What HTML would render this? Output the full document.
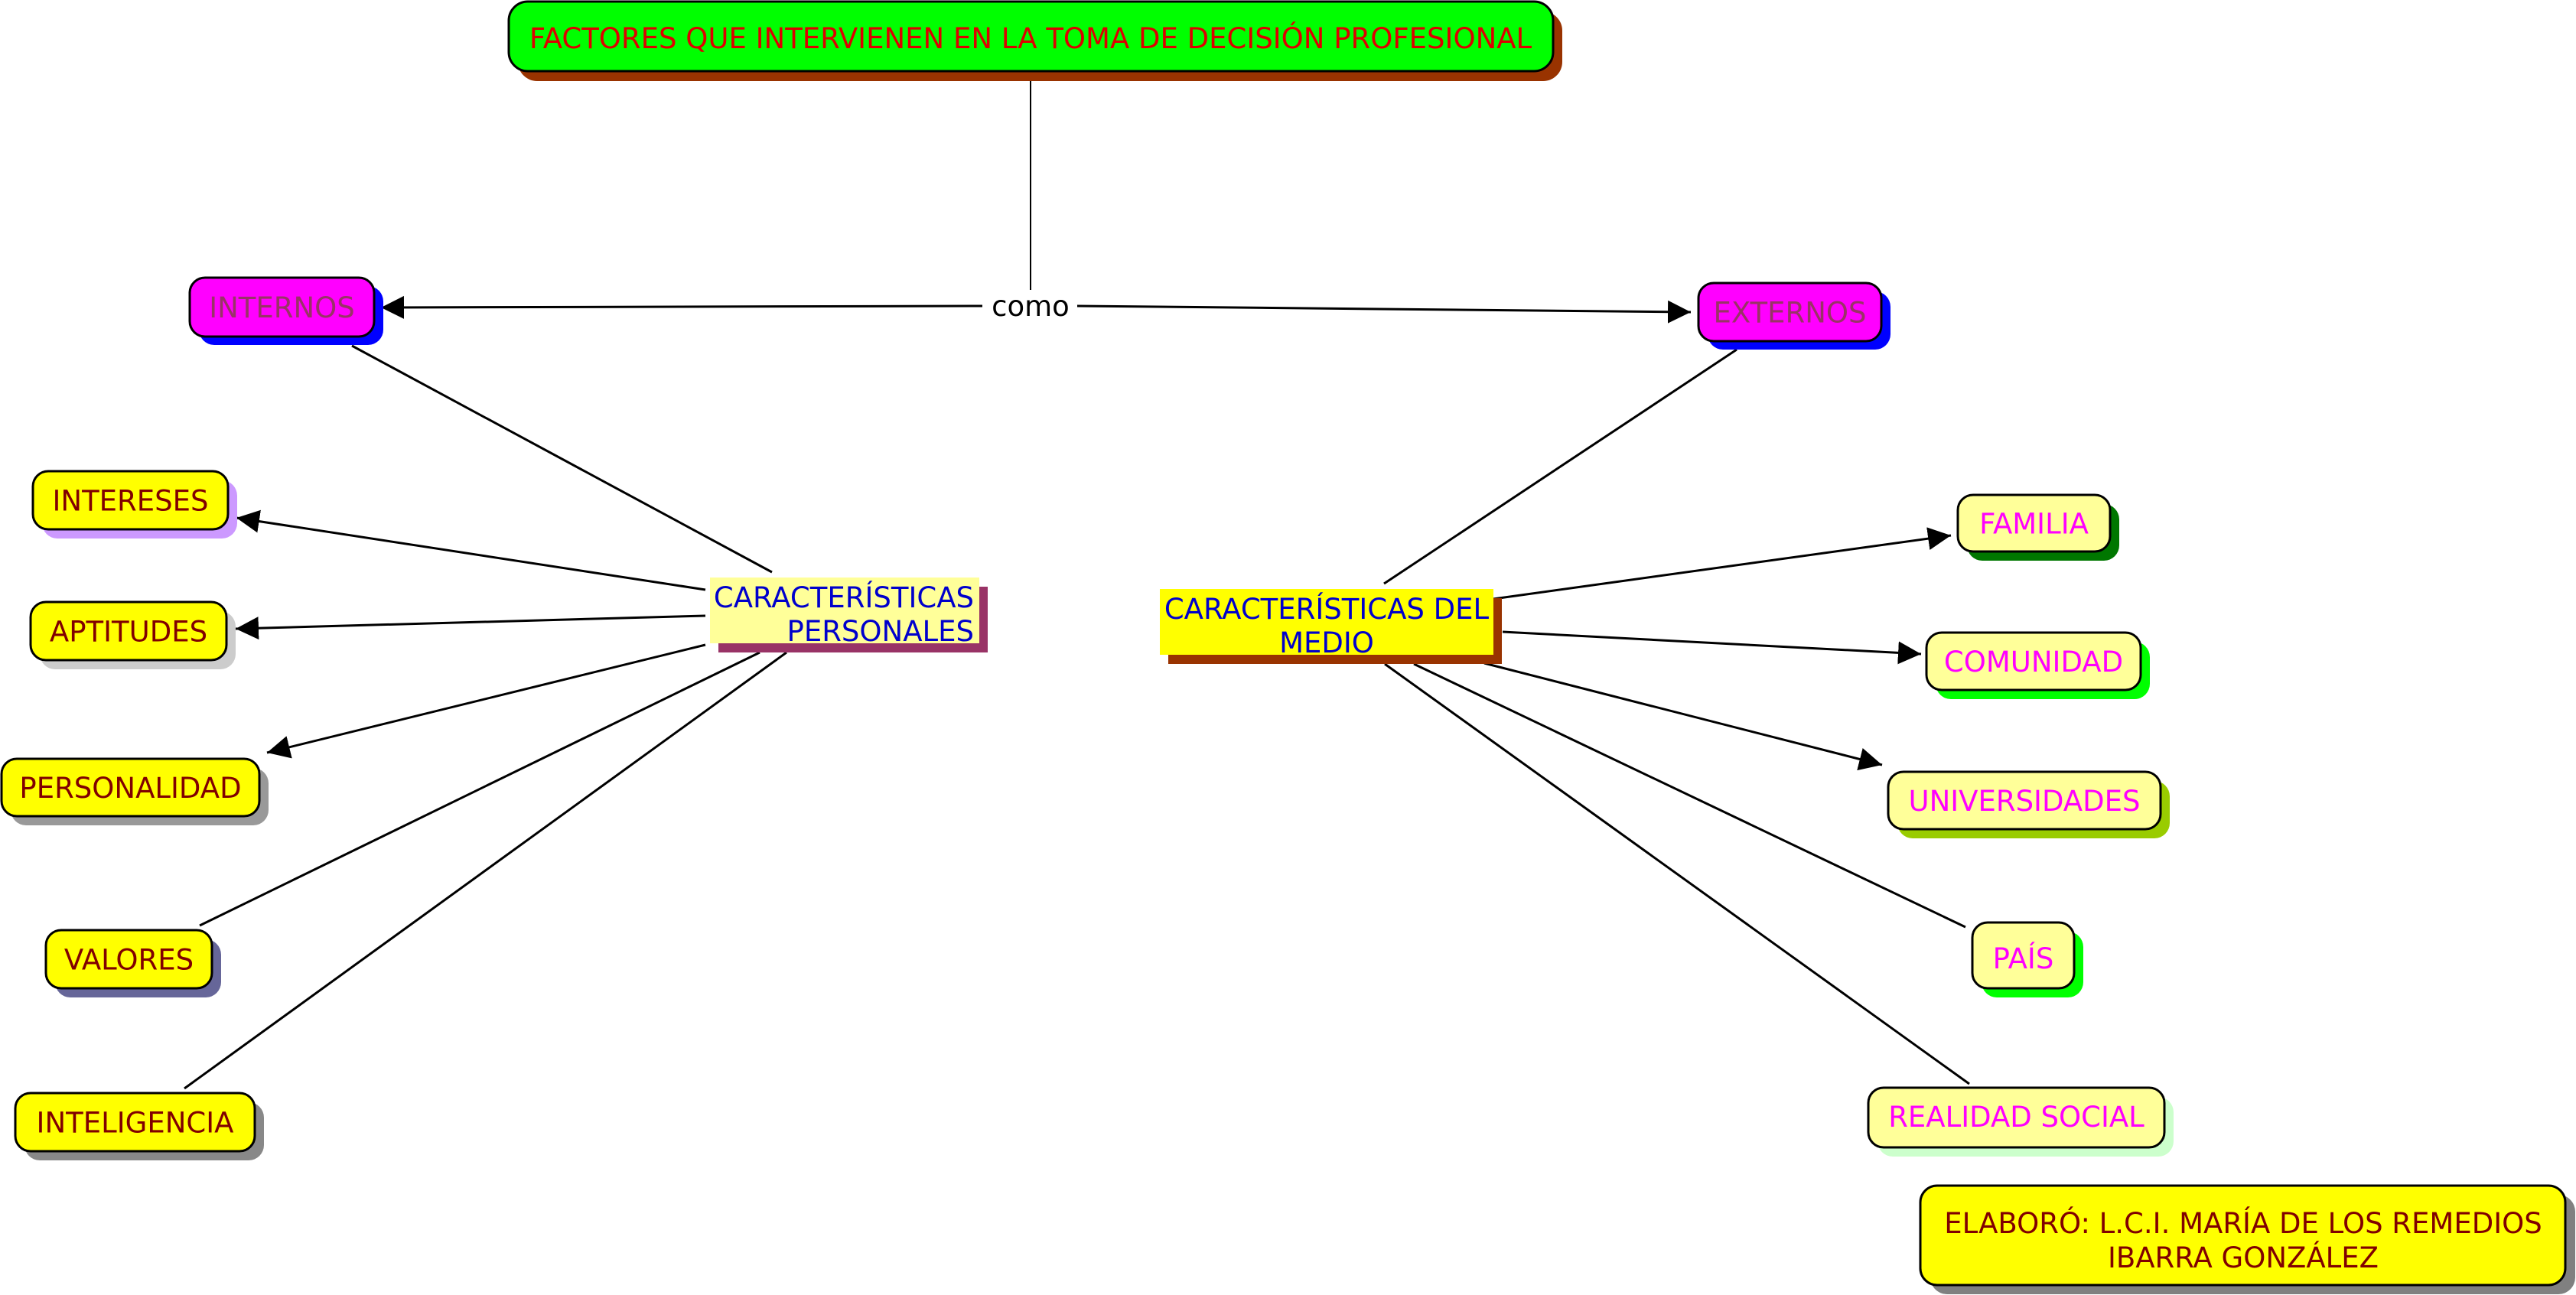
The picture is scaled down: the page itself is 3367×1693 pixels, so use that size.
<!DOCTYPE html>
<html>
<head>
<meta charset="utf-8">
<style>
html,body{margin:0;padding:0;background:#fff;}
body{width:3367px;height:1693px;overflow:hidden;}
svg{display:block;}
text{font-family:"DejaVu Sans","Liberation Sans",sans-serif;font-size:37px;}
</style>
</head>
<body>
<svg width="3367" height="1693" viewBox="0 0 3367 1693" xmlns="http://www.w3.org/2000/svg">
<defs>
<marker id="ar" markerUnits="userSpaceOnUse" markerWidth="32" markerHeight="32" refX="30" refY="15" orient="auto">
<path d="M0,0 L30,15 L0,30 z" fill="#000"/>
</marker>
</defs>
<rect width="3367" height="1693" fill="#fff"/>

<!-- connectors -->
<g stroke="#000" stroke-width="3" fill="none">
<line x1="1347" y1="106" x2="1347" y2="379" stroke-width="2"/>
<line x1="1284" y1="400" x2="498" y2="402" marker-end="url(#ar)"/>
<line x1="1408" y1="400" x2="2210" y2="408" marker-end="url(#ar)"/>
<line x1="460" y1="452" x2="1009" y2="748"/>
<line x1="922" y1="771" x2="309" y2="677" marker-end="url(#ar)"/>
<line x1="922" y1="805" x2="308" y2="822" marker-end="url(#ar)"/>
<line x1="922" y1="843" x2="349" y2="984" marker-end="url(#ar)"/>
<line x1="993" y1="853" x2="261" y2="1210"/>
<line x1="1028" y1="853" x2="241" y2="1423"/>
<line x1="2270" y1="457" x2="1809" y2="763"/>
<line x1="1952" y1="783" x2="2550" y2="700" marker-end="url(#ar)"/>
<line x1="1964" y1="826" x2="2511" y2="855" marker-end="url(#ar)"/>
<line x1="1940" y1="867" x2="2460" y2="1000" marker-end="url(#ar)"/>
<line x1="1848" y1="868" x2="2569" y2="1212"/>
<line x1="1810" y1="868" x2="2574" y2="1417"/>
</g>

<!-- como label -->
<text x="1347" y="413" text-anchor="middle" fill="#000">como</text>

<!-- Title -->
<rect x="677" y="15" width="1365" height="91" rx="25" fill="#993300"/>
<rect x="665" y="2" width="1365" height="91" rx="25" fill="#00ff00" stroke="#000" stroke-width="3"/>
<text x="1347" y="63" text-anchor="middle" fill="#dd0000">FACTORES QUE INTERVIENEN EN LA TOMA DE DECISIÓN PROFESIONAL</text>

<!-- INTERNOS / EXTERNOS -->
<rect x="260" y="374" width="241" height="77" rx="20" fill="#0000ff"/>
<rect x="248" y="363" width="241" height="77" rx="20" fill="#ff00ff" stroke="#000" stroke-width="3"/>
<text x="368.5" y="415" text-anchor="middle" fill="#993366">INTERNOS</text>

<rect x="2232" y="381" width="239" height="76" rx="20" fill="#0000ff"/>
<rect x="2220" y="370" width="239" height="76" rx="20" fill="#ff00ff" stroke="#000" stroke-width="3"/>
<text x="2339.5" y="421.5" text-anchor="middle" fill="#993366">EXTERNOS</text>

<!-- CP -->
<rect x="939" y="767" width="352" height="86" fill="#993366"/>
<rect x="928" y="755" width="352" height="86" fill="#ffff99"/>
<text x="1273" y="794" text-anchor="end" fill="#0000cc">CARACTERÍSTICAS</text>
<text x="1273" y="838" text-anchor="end" fill="#0000cc">PERSONALES</text>

<!-- CDM -->
<rect x="1527" y="782" width="436" height="86" fill="#993300"/>
<rect x="1516" y="770" width="436" height="86" fill="#ffff00"/>
<text x="1734" y="809" text-anchor="middle" fill="#0000cc">CARACTERÍSTICAS DEL</text>
<text x="1734" y="853" text-anchor="middle" fill="#0000cc">MEDIO</text>

<!-- Left nodes -->
<rect x="55" y="628" width="255" height="76" rx="20" fill="#cc99ff"/>
<rect x="43" y="616" width="255" height="76" rx="20" fill="#ffff00" stroke="#000" stroke-width="3"/>
<text x="170.5" y="667.5" text-anchor="middle" fill="#800000">INTERESES</text>

<rect x="52" y="799" width="256" height="76" rx="20" fill="#cccccc"/>
<rect x="40" y="787" width="256" height="76" rx="20" fill="#ffff00" stroke="#000" stroke-width="3"/>
<text x="168" y="838.5" text-anchor="middle" fill="#800000">APTITUDES</text>

<rect x="14" y="1004" width="337" height="75" rx="20" fill="#999999"/>
<rect x="2" y="992" width="337" height="75" rx="20" fill="#ffff00" stroke="#000" stroke-width="3"/>
<text x="170.5" y="1043" text-anchor="middle" fill="#800000">PERSONALIDAD</text>

<rect x="72" y="1228" width="217" height="76" rx="20" fill="#666699"/>
<rect x="60" y="1216" width="217" height="76" rx="20" fill="#ffff00" stroke="#000" stroke-width="3"/>
<text x="168.5" y="1267.5" text-anchor="middle" fill="#800000">VALORES</text>

<rect x="32" y="1441" width="313" height="76" rx="20" fill="#888888"/>
<rect x="20" y="1429" width="313" height="76" rx="20" fill="#ffff00" stroke="#000" stroke-width="3"/>
<text x="176.5" y="1480.5" text-anchor="middle" fill="#800000">INTELIGENCIA</text>

<!-- Right nodes -->
<rect x="2571" y="659" width="199" height="74" rx="20" fill="#007700"/>
<rect x="2559" y="647" width="199" height="74" rx="20" fill="#ffff99" stroke="#000" stroke-width="3"/>
<text x="2658.5" y="697.5" text-anchor="middle" fill="#ff00ff">FAMILIA</text>

<rect x="2530" y="839" width="280" height="75" rx="20" fill="#00ff00"/>
<rect x="2518" y="827" width="280" height="75" rx="20" fill="#ffff99" stroke="#000" stroke-width="3"/>
<text x="2658" y="878" text-anchor="middle" fill="#ff00ff">COMUNIDAD</text>

<rect x="2480" y="1021" width="356" height="75" rx="20" fill="#99cc00"/>
<rect x="2468" y="1009" width="356" height="75" rx="20" fill="#ffff99" stroke="#000" stroke-width="3"/>
<text x="2646" y="1060" text-anchor="middle" fill="#ff00ff">UNIVERSIDADES</text>

<rect x="2590" y="1218" width="133" height="86" rx="20" fill="#00ff00"/>
<rect x="2578" y="1206" width="133" height="86" rx="20" fill="#ffff99" stroke="#000" stroke-width="3"/>
<text x="2644.5" y="1266" text-anchor="middle" fill="#ff00ff">PAÍS</text>

<rect x="2454" y="1434" width="387" height="78" rx="20" fill="#ccffcc"/>
<rect x="2442" y="1422" width="387" height="78" rx="20" fill="#ffff99" stroke="#000" stroke-width="3"/>
<text x="2635.5" y="1473" text-anchor="middle" fill="#ff00ff">REALIDAD SOCIAL</text>

<!-- ELABORÓ -->
<rect x="2523" y="1562" width="843" height="130" rx="22" fill="#808080"/>
<rect x="2510" y="1550" width="843" height="130" rx="22" fill="#ffff00" stroke="#000" stroke-width="3"/>
<text x="2932" y="1612" text-anchor="middle" fill="#800000">ELABORÓ: L.C.I. MARÍA DE LOS REMEDIOS</text>
<text x="2932" y="1657" text-anchor="middle" fill="#800000">IBARRA GONZÁLEZ</text>
</svg>
</body>
</html>
